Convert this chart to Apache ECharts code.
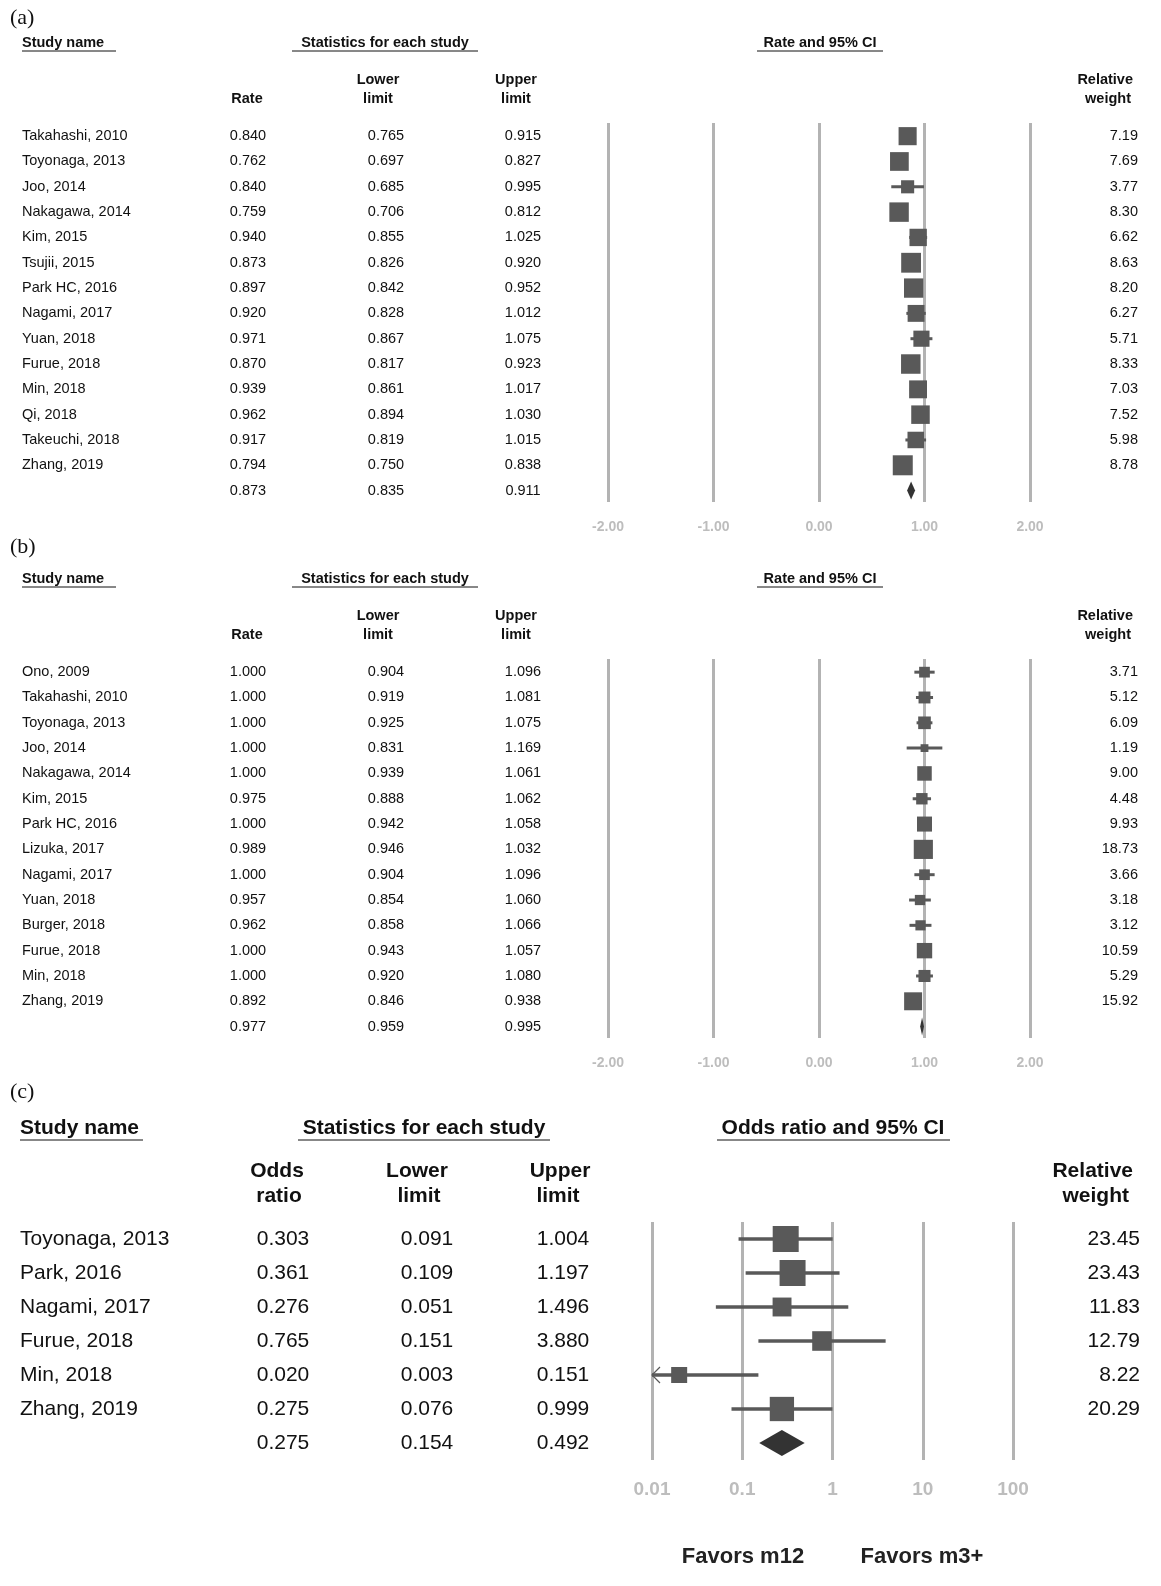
<!DOCTYPE html>
<html><head><meta charset="utf-8">
<script src="https://cdn.jsdelivr.net/npm/echarts@6/dist/echarts.min.js"></script>
<style>html,body{margin:0;background:#fff}#c{width:1161px;height:1586px}</style>
</head><body><div id="c"></div>
<script>
// panel (a)
var aNames = ['Takahashi, 2010','Toyonaga, 2013','Joo, 2014','Nakagawa, 2014','Kim, 2015','Tsujii, 2015','Park HC, 2016','Nagami, 2017','Yuan, 2018','Furue, 2018','Min, 2018','Qi, 2018','Takeuchi, 2018','Zhang, 2019'];
var aRate = [0.840,0.762,0.840,0.759,0.940,0.873,0.897,0.920,0.971,0.870,0.939,0.962,0.917,0.794];
var aLow  = [0.765,0.697,0.685,0.706,0.855,0.826,0.842,0.828,0.867,0.817,0.861,0.894,0.819,0.750];
var aUp   = [0.915,0.827,0.995,0.812,1.025,0.920,0.952,1.012,1.075,0.923,1.017,1.030,1.015,0.838];
var aWt   = ['7.19','7.69','3.77','8.30','6.62','8.63','8.20','6.27','5.71','8.33','7.03','7.52','5.98','8.78'];
var aSum  = [0.873,0.835,0.911];
// panel (b)
var bNames = ['Ono, 2009','Takahashi, 2010','Toyonaga, 2013','Joo, 2014','Nakagawa, 2014','Kim, 2015','Park HC, 2016','Lizuka, 2017','Nagami, 2017','Yuan, 2018','Burger, 2018','Furue, 2018','Min, 2018','Zhang, 2019'];
var bRate = [1.000,1.000,1.000,1.000,1.000,0.975,1.000,0.989,1.000,0.957,0.962,1.000,1.000,0.892];
var bLow  = [0.904,0.919,0.925,0.831,0.939,0.888,0.942,0.946,0.904,0.854,0.858,0.943,0.920,0.846];
var bUp   = [1.096,1.081,1.075,1.169,1.061,1.062,1.058,1.032,1.096,1.060,1.066,1.057,1.080,0.938];
var bWt   = ['3.71','5.12','6.09','1.19','9.00','4.48','9.93','18.73','3.66','3.18','3.12','10.59','5.29','15.92'];
var bSum  = [0.977,0.959,0.995];
// panel (c)
var cNames = ['Toyonaga, 2013','Park, 2016','Nagami, 2017','Furue, 2018','Min, 2018','Zhang, 2019'];
var cOR   = [0.303,0.361,0.276,0.765,0.020,0.275];
var cLow  = [0.091,0.109,0.051,0.151,0.003,0.076];
var cUp   = [1.004,1.197,1.496,3.880,0.151,0.999];
var cWt   = ['23.45','23.43','11.83','12.79','8.22','20.29'];
var cSum  = [0.275,0.154,0.492];

var FONT = '"Liberation Sans", Arial, sans-serif';
var chart = echarts.init(document.getElementById('c'));

function fmt3(v){ return v.toFixed(3); }

function panel(idx, p){
  var n = p.names.length;
  var data = [];
  for (var i = 0; i < n; i++) data.push([p.est[i], i, p.low[i], p.up[i]]);
  data.push([p.sum[0], n, p.sum[1], p.sum[2]]);
  var series = {
    type: 'custom', xAxisIndex: idx, yAxisIndex: idx, clip: false,
    data: data,
    renderItem: function(params, api){
      var i = params.dataIndex, est = api.value(0), row = api.value(1),
          lo = api.value(2), hi = api.value(3);
      var y = api.coord([est, row])[1];
      var kids = [];
      function txt(s, x, align){
        kids.push({type:'text', x:x, y:y, style:{text:s, fill:'#111', fontSize:p.fs, fontFamily:FONT, align:align, verticalAlign:'middle'}});
      }
      var cx = api.coord([est, row])[0];
      var xlo = api.coord([Math.max(lo, p.min), row])[0];
      var xhi = api.coord([hi, row])[0];
      if (i < n) {
        txt(p.names[i], p.nameX, 'left');
        txt(p.wt[i], p.wtX, 'right');
        kids.push({type:'line', shape:{x1:xlo, y1:y, x2:xhi, y2:y}, style:{stroke:'#595959', lineWidth:p.lw}});
        if (lo < p.min) {
          kids.push({type:'polyline', shape:{points:[[xlo+8, y-8],[xlo, y],[xlo+8, y+8]]}, style:{stroke:'#595959', lineWidth:1.2, fill:null}});
        }
        var s = p.ka + p.k * Math.sqrt(parseFloat(p.wt[i]));
        kids.push({type:'rect', shape:{x:cx-s/2, y:y-s/2, width:s, height:s}, style:{fill:'#595959'}});
      } else {
        var h = p.dh;
        kids.push({type:'polygon', shape:{points:[[xlo, y],[cx, y-h/2],[xhi, y],[cx, y+h/2]]}, style:{fill:'#333'}});
      }
      txt(fmt3(est), p.colX[0], 'center');
      txt(fmt3(lo), p.colX[1], 'center');
      txt(fmt3(hi), p.colX[2], 'center');
      return {type:'group', children:kids};
    }
  };
  var grid = {left:p.gl, width:p.gw, top:p.top, height:p.h};
  var xAxis = {
    gridIndex: idx, type: p.log ? 'log' : 'value', logBase: 10,
    min: p.min, max: p.max, interval: p.log ? undefined : 1,
    axisLine:{show:false}, axisTick:{show:false},
    splitLine:{show:true, lineStyle:{color:'#b3b3b3', width:3}},
    axisLabel:{color:'#bdbdbd', fontWeight:'bold', fontSize:p.tfs, fontFamily:FONT, margin:p.lm,
      formatter: p.log ? function(v){ return String(+(+v).toPrecision(2)); } : function(v){ return v.toFixed(2); }}
  };
  var yAxis = {gridIndex: idx, type:'value', inverse:true, min:p.ymin, max:p.ymax, show:false};
  return {grid:grid, xAxis:xAxis, yAxis:yAxis, series:series};
}

var common = {nameX:22, wtX:1138, colX:[248,386,523], fs:14.5, tfs:14, lm:18, lw:3, gl:608, gw:422, min:-2, max:2, log:false, dh:18};
var pa = panel(0, Object.assign({}, common, {names:aNames, est:aRate, low:aLow, up:aUp, wt:aWt, sum:aSum, ka:0, k:6.75, top:123, h:379, ymin:-0.52, ymax:14.45}));
var pb = panel(1, Object.assign({}, common, {names:bNames, est:bRate, low:bLow, up:bUp, wt:bWt, sum:bSum, ka:4, k:3.5, top:659, h:379, ymin:-0.52, ymax:14.45}));
var pc = panel(2, {names:cNames, est:cOR, low:cLow, up:cUp, wt:cWt, sum:cSum, nameX:20, wtX:1140, colX:[283,427,563], fs:21, tfs:19, lm:20, lw:3.5, gl:652, gw:361, min:0.01, max:100, log:true, ka:1.5, k:5.06, dh:26, top:1222, h:238, ymin:-0.5, ymax:6.5});

var g = [];
function T(s, x, y, opt){
  g.push({type:'text', x:x, y:y, style:Object.assign({text:s, fill:'#111', fontSize:14.5, fontFamily:FONT, align:'left', verticalAlign:'middle'}, opt||{})});
}
function U(x1, x2, y){ g.push({type:'line', shape:{x1:x1, y1:y, x2:x2, y2:y}, style:{stroke:'#111', lineWidth:1}}); }
function header(dy){
  T('Study name', 22, 43+dy, {fontWeight:'bold'}); U(22, 116, 51+dy);
  T('Statistics for each study', 385, 43+dy, {fontWeight:'bold', align:'center'}); U(292, 478, 51+dy);
  T('Rate and 95% CI', 820, 43+dy, {fontWeight:'bold', align:'center'}); U(757, 883, 51+dy);
  T('Rate', 247, 99+dy, {fontWeight:'bold', align:'center'});
  T('Lower', 378, 80+dy, {fontWeight:'bold', align:'center'});
  T('limit', 378, 99+dy, {fontWeight:'bold', align:'center'});
  T('Upper', 516, 80+dy, {fontWeight:'bold', align:'center'});
  T('limit', 516, 99+dy, {fontWeight:'bold', align:'center'});
  T('Relative', 1133, 80+dy, {fontWeight:'bold', align:'right'});
  T('weight', 1131, 99+dy, {fontWeight:'bold', align:'right'});
}
var SERIF = '"Liberation Serif", "Times New Roman", serif';
T('(a)', 10, 18, {fontSize:22, fontFamily:SERIF});
header(0);
T('(b)', 10, 547, {fontSize:22, fontFamily:SERIF});
header(536);
T('(c)', 10, 1092, {fontSize:22, fontFamily:SERIF});
var B = {fontWeight:'bold', fontSize:21};
T('Study name', 20, 1128, B); U(20, 143, 1140);
T('Statistics for each study', 424, 1128, Object.assign({align:'center'}, B)); U(298, 550, 1140);
T('Odds ratio and 95% CI', 833, 1128, Object.assign({align:'center'}, B)); U(717, 950, 1140);
T('Odds', 277, 1171, Object.assign({align:'center'}, B));
T('ratio', 279, 1196, Object.assign({align:'center'}, B));
T('Lower', 417, 1171, Object.assign({align:'center'}, B));
T('limit', 419, 1196, Object.assign({align:'center'}, B));
T('Upper', 560, 1171, Object.assign({align:'center'}, B));
T('limit', 558, 1196, Object.assign({align:'center'}, B));
T('Relative', 1133, 1171, Object.assign({align:'right'}, B));
T('weight', 1129, 1196, Object.assign({align:'right'}, B));
T('Favors m12', 743, 1557, {fontWeight:'bold', fontSize:22, fill:'#222', align:'center'});
T('Favors m3+', 922, 1557, {fontWeight:'bold', fontSize:22, fill:'#222', align:'center'});

chart.setOption({
  animation: false,
  grid: [pa.grid, pb.grid, pc.grid],
  xAxis: [pa.xAxis, pb.xAxis, pc.xAxis],
  yAxis: [pa.yAxis, pb.yAxis, pc.yAxis],
  series: [pa.series, pb.series, pc.series],
  graphic: g
});
</script></body></html>
